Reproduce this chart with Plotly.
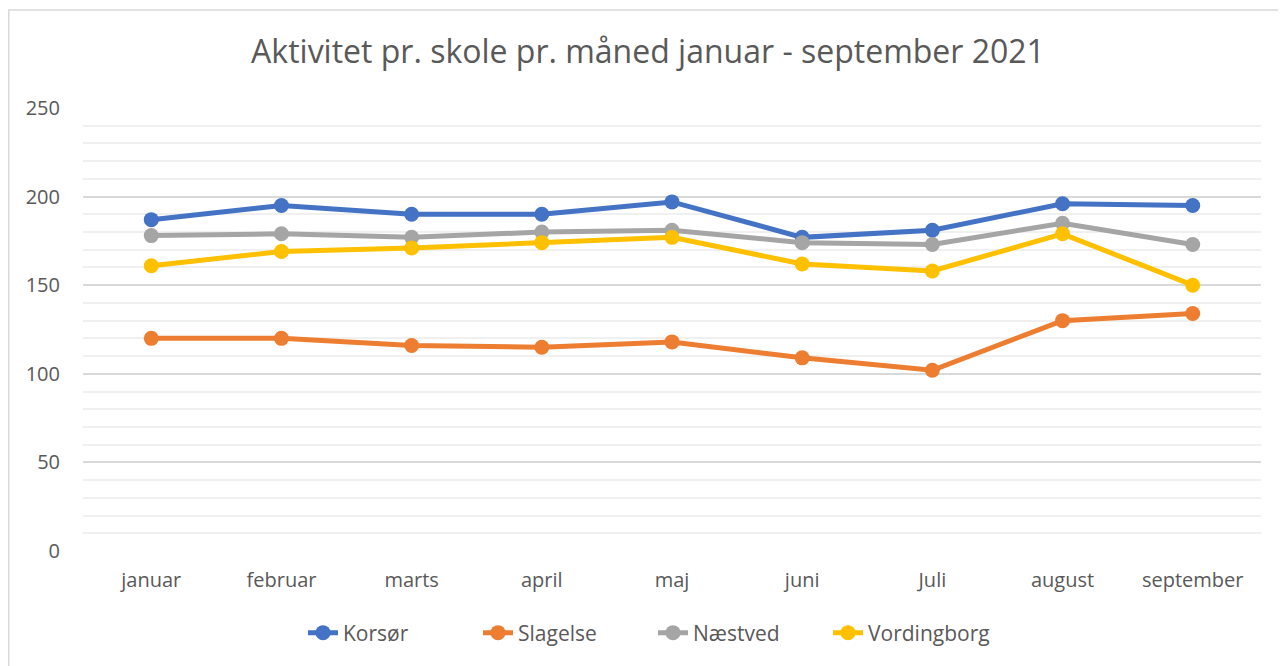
import plotly.graph_objects as go

months = ["januar", "februar", "marts", "april", "maj", "juni", "Juli", "august", "september"]
korsoer = [187, 195, 190, 190, 197, 177, 181, 196, 195]
slagelse = [120, 120, 116, 115, 118, 109, 102, 130, 134]
naestved = [178, 179, 177, 180, 181, 174, 173, 185, 173]
vordingborg = [161, 169, 171, 174, 177, 162, 158, 179, 150]

series = [
    ("Korsør", korsoer, "#4472C4"),
    ("Slagelse", slagelse, "#ED7D31"),
    ("Næstved", naestved, "#A5A5A5"),
    ("Vordingborg", vordingborg, "#FFC000"),
]

fig = go.Figure()
for name, vals, col in series:
    fig.add_trace(go.Scatter(
        x=months, y=vals, name=name, mode="lines+markers",
        line=dict(color=col, width=5),
        marker=dict(color=col, size=15),
    ))

# page has an 8px body margin; figure origin sits at (8, 8)
OFF = 8
W, H = 1286 - OFF, 666 - OFF
L, T = 83 - OFF, 108 - OFF
R = W - (1261 - OFF)
B = H - (551 - OFF)
pw, ph = W - L - R, H - T - B

fig.update_layout(
    width=W, height=H,
    margin=dict(l=L, r=R, t=T, b=B, pad=0),
    paper_bgcolor="white", plot_bgcolor="white",
    font=dict(family="Open Sans, sans-serif", color="#595959", size=20),
    title=dict(text="Aktivitet pr. skole pr. måned januar - september 2021",
               x=(648 - OFF) / W, xref="container", xanchor="center",
               y=1 - (52 - OFF) / H, yref="container", yanchor="middle",
               font=dict(size=32, color="#595959")),
    showlegend=True,
    legend=dict(orientation="h", x=(653 - OFF) / W, xref="container", xanchor="center",
                y=1 - (633 - OFF) / H, yref="container", yanchor="middle",
                font=dict(size=21, color="#595959"),
                entrywidth=130, entrywidthmode="pixels",
                traceorder="normal"),
    xaxis=dict(showgrid=False, zeroline=False, showline=False, ticks="",
               ticklabelstandoff=15, tickfont=dict(size=20, color="#595959")),
    yaxis=dict(range=[0, 250], dtick=50, showgrid=True, gridcolor="#d9d9d9",
               gridwidth=1.5, zeroline=False, showline=False, ticks="",
               ticklabelstandoff=22, tickfont=dict(size=20, color="#595959"),
               minor=dict(dtick=10, showgrid=True, gridcolor="#f0f0f0", gridwidth=1.5)),
    shapes=[dict(type="rect", xref="paper", yref="paper",
                 x0=(8.8 - 83) / pw, x1=(1300 - 83) / pw,
                 y0=(551 - 680) / ph, y1=(551 - 10) / ph,
                 line=dict(color="#d9d9d9", width=1.5), layer="below")],
)

fig.write_html("out.html")
